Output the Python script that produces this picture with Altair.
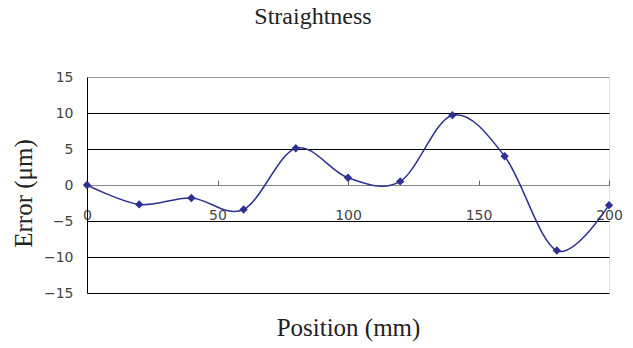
import altair as alt
import pandas as pd

positions = [0, 20, 40, 60, 80, 100, 120, 140, 160, 180, 200]
errors = [0.0, -2.7, -1.8, -3.4, 5.1, 1.0, 0.5, 9.7, 4.0, -9.1, -2.8]
x_ticks = [0, 50, 100, 150, 200]
y_ticks = [-15, -10, -5, 0, 5, 10, 15]

df = pd.DataFrame({"pos": positions, "err": errors})

NAVY = "#2E3192"
xscale = alt.Scale(domain=[0, 200], nice=False, zero=False)
yscale = alt.Scale(domain=[-15, 15], nice=False)

bottom_axis = alt.Axis(
    orient="bottom", offset=-108, values=x_ticks, grid=False, ticks=False,
    domainColor="#888888", domainWidth=1, labelPadding=23,
    labelFont="DejaVu Sans", labelFontSize=14, labelColor="#444444",
    labelFlush=False, labelOverlap=False,
    title="Position (mm)", titleFont="Liberation Serif", titleFontSize=25,
    titleFontWeight="normal", titleColor="#222222", titlePadding=93,
)
top_axis = alt.Axis(
    orient="top", offset=-108, values=x_ticks, grid=False, labels=False,
    domain=False, ticks=True, tickSize=5, tickColor="#666666", title=None,
)
y_axis = alt.Axis(
    values=y_ticks, grid=True,
    gridColor={"condition": {"test": "datum.value === 15 || datum.value === 0", "value": "#999999"}, "value": "#000000"},
    gridWidth=1, domainColor="#000000", ticks=False, labelPadding=14,
    labelFont="DejaVu Sans", labelFontSize=14, labelColor="#444444",
    title="Error (μm)", titleFont="Liberation Serif", titleFontSize=25,
    titleFontWeight="normal", titleColor="#222222", titlePadding=7,
    titleY=116,
)

line = alt.Chart(df).mark_line(interpolate="cardinal", color=NAVY, strokeWidth=1.5).encode(
    x=alt.X("pos:Q", scale=xscale, axis=bottom_axis),
    y=alt.Y("err:Q", scale=yscale, axis=y_axis),
)
tickl = alt.Chart(df).mark_point(opacity=0).encode(
    x=alt.X("pos:Q", scale=xscale, axis=top_axis),
    y=alt.Y("err:Q", scale=yscale, axis=y_axis),
)
pts = alt.Chart(df).mark_point(shape="diamond", filled=True, size=70, color=NAVY, opacity=1).encode(
    x=alt.X("pos:Q", scale=xscale, axis=None),
    y=alt.Y("err:Q", scale=yscale, axis=y_axis),
)

chart = alt.layer(line, tickl, pts).resolve_axis(x="independent").properties(
    width=522, height=216,
    title=alt.TitleParams("Straightness", font="Liberation Serif", fontSize=24,
                          fontWeight="normal", color="#222222", offset=41, dx=-35,
                          anchor="middle"),
    autosize=alt.AutoSizeParams(type="none"),
    padding={"left": 87, "top": 77, "right": 24, "bottom": 55},
).configure_view(stroke="#999999", strokeWidth=1).configure(background="white")

chart.save("out.html", embed_options={"renderer": "svg", "actions": False})
